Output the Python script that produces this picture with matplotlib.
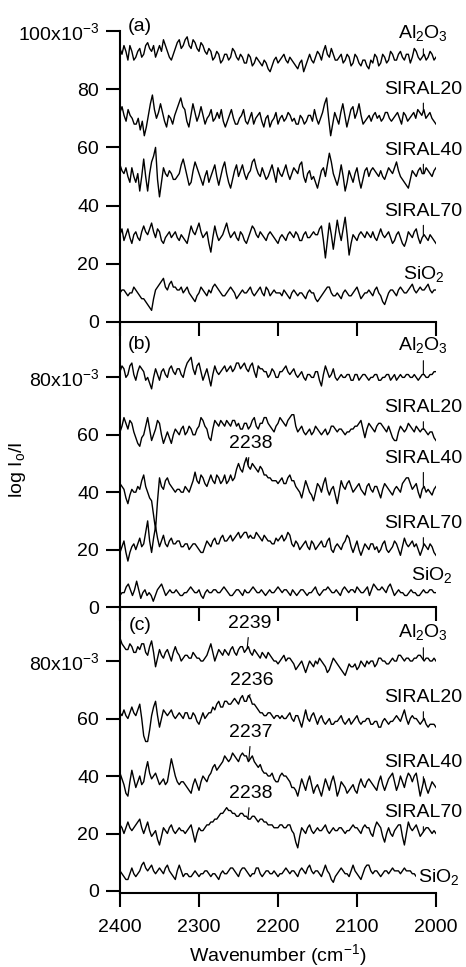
import numpy as np
import matplotlib
matplotlib.use("Agg")
import matplotlib.pyplot as plt

plt.rcParams['font.family'] = 'Liberation Sans'
plt.rcParams['mathtext.fontset'] = 'custom'
plt.rcParams['mathtext.rm'] = 'Liberation Sans'
plt.rcParams['mathtext.it'] = 'Liberation Sans:italic'
plt.rcParams['font.size'] = 14

# every spectrum runs from 2400 to 2000 cm-1, points evenly spaced (~2.5 cm-1)
WN_START, WN_END = 2400, 2000

samples = ["Al$_\\mathregular{2}$O$_\\mathregular{3}$", "SIRAL20", "SIRAL40", "SIRAL70",
           "SiO$_\\mathregular{2}$"]

# ---- panel (a) spectra, 10^-3 units
a_al2o3 = [94, 92, 95, 93, 90, 95, 93, 90, 91, 93, 94, 91, 92, 95, 96, 94, 93, 95, 91, 93,
           95, 93, 97, 95, 93, 91, 90, 92, 94, 96, 97, 94, 95, 97, 98, 95, 94, 97, 96, 94,
           93, 96, 95, 93, 92, 94, 93, 90, 91, 93, 92, 89, 90, 92, 92, 90, 91, 94, 93, 91,
           90, 92, 91, 89, 89, 92, 91, 88, 89, 91, 90, 89, 88, 90, 89, 87, 86, 88, 90, 91,
           89, 90, 91, 92, 90, 89, 91, 90, 89, 88, 87, 89, 90, 86, 88, 90, 92, 90, 89, 91,
           93, 92, 90, 93, 95, 92, 91, 94, 92, 90, 90, 91, 92, 89, 90, 92, 91, 88, 89, 92,
           91, 89, 88, 90, 90, 88, 87, 90, 89, 92, 91, 88, 89, 92, 91, 89, 90, 93, 92, 90,
           90, 92, 93, 91, 90, 92, 92, 89, 91, 94, 93, 91, 90, 91, 92, 90, 91, 93, 92, 90, 91]
a_siral20 = [72, 74, 71, 69, 73, 71, 70, 68, 68, 70, 66, 69, 64, 67, 71, 75, 78, 73, 70, 72,
             75, 72, 69, 67, 71, 70, 68, 71, 73, 75, 77, 74, 73, 69, 67, 71, 75, 72, 69, 71,
             74, 71, 68, 70, 71, 73, 69, 70, 72, 70, 73, 69, 67, 69, 71, 73, 70, 68, 68, 70,
             71, 73, 69, 68, 70, 72, 68, 70, 71, 72, 69, 67, 70, 71, 67, 69, 70, 72, 68, 70,
             71, 69, 70, 72, 71, 69, 70, 68, 68, 71, 70, 68, 69, 71, 71, 69, 73, 70, 68, 70,
             72, 75, 77, 70, 64, 68, 72, 70, 68, 72, 75, 71, 67, 70, 73, 74, 70, 72, 75, 71,
             68, 69, 70, 71, 69, 71, 72, 70, 71, 69, 70, 72, 72, 70, 69, 70, 71, 72, 70, 68,
             72, 71, 69, 70, 71, 72, 70, 73, 72, 71, 73, 70, 71, 72, 70, 69, 68]
a_siral40 = [54, 52, 51, 53, 50, 48, 53, 50, 48, 51, 45, 50, 56, 50, 45, 51, 55, 57, 60, 49,
             43, 48, 53, 51, 50, 52, 51, 49, 49, 50, 51, 54, 56, 53, 50, 47, 48, 52, 55, 53,
             51, 49, 47, 50, 52, 48, 50, 52, 54, 50, 47, 50, 53, 55, 51, 48, 46, 49, 52, 54,
             50, 52, 54, 51, 49, 51, 52, 55, 56, 53, 51, 50, 53, 51, 49, 50, 52, 54, 51, 48,
             53, 51, 50, 52, 54, 51, 49, 51, 53, 52, 51, 54, 55, 50, 48, 51, 52, 49, 50, 48,
             46, 49, 52, 53, 50, 54, 58, 55, 51, 49, 47, 50, 54, 50, 45, 48, 52, 50, 48, 51,
             53, 49, 46, 49, 52, 53, 50, 52, 53, 52, 51, 50, 52, 50, 49, 51, 53, 52, 51, 53,
             55, 52, 50, 49, 48, 47, 46, 49, 52, 51, 50, 52, 53, 51, 51, 53, 52, 51, 50, 52, 53]
a_siral70 = [30, 32, 28, 30, 32, 29, 27, 30, 31, 29, 28, 31, 33, 31, 30, 32, 34, 31, 29, 32,
             31, 28, 27, 29, 30, 31, 29, 30, 31, 29, 28, 30, 29, 28, 27, 30, 33, 31, 30, 32,
             34, 31, 29, 30, 31, 27, 24, 29, 33, 30, 28, 29, 30, 32, 34, 31, 29, 30, 31, 29,
             28, 31, 30, 28, 27, 29, 31, 33, 32, 30, 29, 31, 30, 29, 28, 30, 31, 30, 29, 28,
             27, 29, 30, 29, 28, 30, 31, 30, 29, 31, 30, 28, 28, 30, 31, 29, 29, 30, 31, 30,
             30, 32, 33, 28, 22, 28, 34, 30, 25, 30, 35, 31, 28, 32, 36, 30, 23, 27, 30, 29,
             28, 30, 31, 30, 29, 31, 30, 29, 31, 29, 28, 30, 32, 30, 29, 30, 31, 29, 27, 28,
             30, 31, 29, 27, 26, 28, 31, 30, 29, 31, 32, 29, 27, 29, 30, 29, 28, 30, 29, 28, 27]
a_sio2 = [10, 11, 11, 10, 9, 10, 10, 12, 11, 10, 9, 8, 8, 7, 6, 5, 4, 8, 11, 12,
          13, 14, 15, 12, 11, 13, 14, 12, 12, 11, 11, 12, 10, 11, 12, 10, 9, 8, 7, 9,
          10, 12, 11, 10, 9, 11, 10, 12, 13, 12, 11, 10, 9, 9, 10, 11, 12, 11, 10, 8,
          9, 10, 11, 10, 10, 11, 12, 10, 9, 10, 11, 12, 10, 9, 12, 11, 9, 10, 11, 10,
          10, 10, 9, 11, 10, 9, 8, 10, 11, 10, 9, 10, 10, 9, 8, 10, 11, 10, 10, 8,
          7, 8, 9, 10, 11, 12, 12, 10, 9, 9, 10, 9, 8, 10, 11, 10, 9, 9, 10, 11,
          12, 10, 8, 9, 10, 10, 11, 10, 9, 11, 12, 10, 9, 7, 6, 8, 10, 11, 11, 10,
          9, 11, 12, 11, 10, 10, 11, 12, 13, 11, 10, 11, 12, 11, 11, 12, 13, 11, 10, 11, 11]

# ---- panel (b)
b_al2o3 = [82, 84, 83, 80, 81, 84, 85, 81, 79, 82, 84, 83, 82, 79, 80, 78, 76, 80, 83, 81,
           79, 82, 83, 81, 80, 83, 84, 82, 81, 83, 83, 81, 80, 83, 85, 86, 87, 83, 81, 84,
           85, 82, 79, 81, 83, 80, 77, 81, 84, 82, 81, 82, 83, 84, 82, 83, 84, 82, 83, 85,
           85, 83, 84, 85, 83, 82, 84, 85, 82, 80, 84, 83, 83, 82, 82, 80, 81, 83, 82, 80,
           80, 82, 82, 83, 84, 82, 81, 82, 83, 81, 80, 81, 82, 80, 79, 81, 81, 80, 80, 82,
           82, 79, 77, 81, 84, 82, 80, 81, 83, 80, 79, 80, 81, 80, 80, 81, 81, 79, 79, 81,
           81, 79, 80, 81, 81, 80, 79, 80, 80, 81, 81, 79, 79, 80, 80, 81, 81, 79, 80, 81,
           79, 80, 81, 80, 80, 81, 81, 80, 80, 81, 80, 79, 80, 81, 81, 80, 80, 81, 81, 82, 82]
b_siral20 = [61, 63, 66, 64, 62, 65, 64, 61, 59, 57, 56, 59, 60, 63, 66, 62, 58, 60, 62, 65,
             64, 60, 57, 59, 61, 59, 57, 60, 62, 61, 60, 62, 63, 60, 61, 63, 62, 60, 60, 62,
             63, 66, 65, 63, 62, 59, 58, 62, 65, 64, 63, 65, 64, 63, 65, 64, 63, 65, 65, 63,
             64, 62, 62, 64, 64, 62, 63, 65, 66, 63, 62, 64, 64, 66, 66, 64, 63, 62, 61, 63,
             64, 66, 65, 64, 63, 65, 66, 67, 67, 63, 61, 62, 63, 61, 60, 61, 62, 60, 61, 63,
             62, 61, 60, 61, 62, 60, 61, 63, 63, 62, 61, 62, 62, 61, 60, 61, 61, 62, 62, 63,
             63, 64, 65, 62, 59, 62, 64, 63, 62, 61, 63, 64, 64, 63, 62, 61, 63, 61, 59, 58,
             58, 61, 63, 62, 61, 62, 64, 63, 62, 61, 63, 62, 61, 62, 62, 61, 60, 61, 61, 59, 58]
b_siral40 = [43, 42, 41, 38, 36, 39, 41, 40, 40, 42, 41, 44, 46, 42, 40, 38, 37, 32, 27, 37,
             45, 42, 41, 44, 45, 43, 42, 41, 40, 41, 41, 40, 40, 42, 41, 40, 42, 44, 47, 44,
             43, 46, 45, 43, 42, 44, 46, 44, 43, 46, 45, 43, 44, 46, 43, 44, 46, 44, 45, 48,
             50, 48, 47, 50, 52, 49, 48, 50, 49, 48, 47, 49, 48, 46, 46, 45, 45, 44, 44, 44,
             43, 44, 45, 43, 43, 45, 46, 44, 44, 42, 41, 40, 38, 41, 44, 42, 40, 39, 37, 40,
             43, 42, 40, 43, 45, 41, 39, 41, 42, 39, 36, 40, 44, 42, 41, 43, 44, 42, 40, 41,
             42, 43, 41, 40, 39, 42, 43, 41, 40, 42, 42, 40, 38, 41, 43, 42, 41, 40, 39, 41,
             42, 41, 40, 43, 44, 45, 45, 43, 41, 42, 43, 40, 38, 41, 42, 40, 41, 40, 39, 41, 42]
b_siral70 = [19, 21, 23, 19, 16, 19, 21, 22, 20, 22, 24, 21, 22, 26, 30, 23, 19, 24, 28, 24,
             21, 23, 25, 22, 21, 23, 24, 22, 22, 23, 23, 21, 21, 22, 22, 20, 21, 22, 22, 21,
             20, 19, 19, 21, 23, 22, 21, 23, 24, 22, 22, 24, 25, 23, 23, 24, 25, 23, 24, 25,
             26, 24, 25, 26, 26, 24, 25, 24, 24, 26, 25, 24, 23, 25, 24, 23, 23, 22, 22, 24,
             23, 24, 25, 23, 24, 26, 25, 22, 21, 23, 22, 20, 21, 22, 23, 21, 20, 23, 22, 20,
             21, 22, 23, 21, 21, 23, 24, 20, 19, 21, 22, 21, 20, 22, 23, 25, 24, 21, 19, 21,
             23, 20, 18, 20, 22, 21, 20, 22, 22, 20, 21, 19, 20, 22, 23, 20, 19, 20, 21, 23,
             22, 20, 18, 21, 24, 22, 21, 22, 23, 21, 22, 20, 18, 20, 22, 21, 20, 22, 21, 19, 18]
b_sio2 = [4, 5, 5, 7, 8, 6, 4, 6, 9, 6, 3, 5, 6, 4, 5, 4, 2, 4, 6, 7,
          8, 6, 4, 5, 6, 5, 5, 6, 5, 4, 4, 5, 5, 6, 7, 6, 5, 5, 6, 4,
          3, 5, 6, 5, 5, 6, 6, 5, 5, 6, 7, 6, 5, 4, 4, 5, 6, 6, 5, 4,
          6, 5, 5, 6, 7, 6, 5, 5, 6, 5, 4, 5, 6, 5, 5, 6, 7, 6, 5, 6,
          6, 5, 4, 6, 5, 4, 5, 6, 6, 5, 4, 5, 5, 6, 7, 5, 4, 5, 6, 6,
          7, 6, 5, 5, 6, 5, 4, 6, 7, 6, 5, 6, 6, 5, 7, 6, 5, 5, 6, 7,
          4, 6, 8, 7, 6, 6, 7, 6, 5, 7, 8, 6, 4, 5, 6, 5, 5, 4, 4, 5,
          6, 5, 5, 4, 4, 5, 6, 5, 5, 6, 6, 5, 5]

# ---- panel (c)
c_al2o3 = [88, 86, 85, 84, 84, 86, 85, 83, 83, 85, 84, 86, 86, 83, 82, 85, 87, 83, 78, 81,
           84, 82, 81, 83, 84, 82, 80, 83, 85, 83, 82, 80, 81, 82, 82, 81, 81, 83, 82, 81,
           81, 80, 80, 81, 82, 84, 86, 83, 80, 82, 84, 83, 82, 84, 83, 82, 84, 85, 83, 82,
           84, 85, 85, 83, 84, 85, 83, 82, 84, 83, 82, 81, 83, 82, 81, 83, 82, 81, 80, 80,
           79, 80, 81, 82, 80, 81, 81, 80, 79, 77, 78, 79, 80, 78, 76, 78, 80, 79, 78, 80,
           79, 81, 80, 79, 78, 76, 77, 79, 81, 80, 79, 78, 77, 76, 75, 77, 79, 78, 78, 79,
           77, 78, 80, 79, 78, 80, 79, 80, 80, 78, 79, 81, 81, 80, 80, 79, 79, 80, 81, 80,
           80, 82, 82, 81, 80, 81, 81, 80, 80, 81, 81, 82, 82, 81, 80, 81, 81, 80, 80, 81, 80]
c_siral20 = [62, 61, 63, 61, 60, 62, 64, 62, 61, 63, 65, 60, 54, 52, 52, 56, 61, 64, 66, 61,
             57, 60, 63, 62, 61, 62, 63, 61, 60, 61, 62, 61, 60, 62, 62, 60, 60, 62, 61, 59,
             58, 60, 62, 60, 61, 62, 62, 64, 63, 65, 66, 64, 64, 66, 66, 65, 65, 66, 67, 66,
             65, 67, 68, 66, 66, 68, 67, 65, 65, 64, 63, 62, 62, 61, 61, 62, 62, 61, 60, 61,
             61, 60, 61, 60, 60, 61, 62, 60, 59, 61, 61, 59, 57, 60, 63, 60, 59, 61, 62, 60,
             58, 60, 61, 59, 58, 59, 60, 58, 58, 59, 59, 60, 61, 59, 58, 59, 60, 58, 59, 60,
             61, 59, 58, 59, 59, 60, 60, 58, 58, 59, 59, 57, 57, 59, 60, 59, 58, 59, 59, 60,
             61, 60, 59, 61, 63, 60, 58, 60, 61, 60, 60, 59, 58, 59, 60, 58, 57, 58, 58, 58, 57]
c_siral40 = [41, 39, 37, 34, 33, 38, 42, 39, 36, 38, 40, 37, 38, 42, 45, 41, 39, 40, 41, 39,
             37, 38, 39, 37, 38, 42, 46, 43, 40, 38, 37, 38, 38, 37, 36, 35, 34, 37, 39, 37,
             35, 38, 40, 39, 38, 40, 41, 43, 44, 42, 43, 44, 45, 47, 46, 45, 46, 48, 47, 46,
             45, 47, 48, 47, 47, 45, 46, 47, 45, 44, 43, 44, 42, 41, 41, 40, 40, 41, 39, 38,
             38, 40, 41, 40, 40, 39, 38, 36, 36, 35, 33, 36, 39, 37, 35, 38, 40, 37, 34, 36,
             37, 35, 33, 36, 39, 37, 35, 38, 40, 37, 33, 35, 38, 37, 36, 34, 35, 36, 37, 35,
             34, 37, 39, 37, 36, 38, 39, 38, 37, 36, 35, 38, 40, 37, 35, 37, 39, 40, 41, 38,
             35, 37, 40, 38, 36, 39, 41, 40, 38, 40, 41, 37, 33, 36, 39, 36, 34, 36, 38, 37, 36]
c_siral70 = [23, 22, 20, 22, 24, 22, 21, 22, 23, 24, 25, 22, 20, 22, 24, 21, 19, 20, 21, 18,
             16, 19, 22, 21, 20, 22, 23, 21, 20, 21, 22, 21, 21, 20, 21, 22, 23, 20, 17, 20,
             22, 21, 21, 22, 23, 23, 24, 24, 25, 25, 26, 27, 27, 28, 29, 28, 28, 27, 27, 26,
             26, 27, 27, 26, 26, 25, 25, 26, 26, 25, 24, 25, 25, 24, 24, 23, 23, 23, 22, 22,
             22, 23, 23, 22, 22, 23, 23, 21, 20, 17, 15, 19, 22, 21, 20, 22, 23, 21, 20, 21,
             22, 21, 21, 22, 23, 21, 20, 21, 22, 21, 21, 22, 22, 21, 20, 21, 21, 22, 23, 22,
             22, 21, 20, 22, 23, 22, 22, 20, 19, 22, 24, 23, 22, 19, 17, 20, 22, 20, 19, 21,
             22, 23, 23, 19, 16, 20, 24, 22, 21, 22, 23, 21, 19, 20, 21, 22, 22, 21, 20, 21, 20]
c_sio2 = [7, 6, 5, 4, 4, 6, 8, 6, 5, 6, 7, 9, 10, 8, 7, 8, 9, 7, 6, 7,
          8, 7, 6, 8, 9, 7, 6, 5, 4, 7, 9, 7, 5, 6, 6, 5, 5, 6, 7, 6,
          5, 6, 6, 7, 7, 6, 5, 6, 6, 5, 4, 6, 7, 6, 6, 7, 8, 8, 7, 6,
          5, 7, 8, 8, 7, 6, 5, 6, 6, 8, 8, 6, 5, 6, 7, 7, 6, 6, 7, 6,
          5, 6, 6, 7, 8, 7, 6, 7, 7, 6, 5, 7, 8, 7, 6, 8, 9, 7, 6, 7,
          7, 6, 5, 7, 9, 7, 6, 4, 3, 5, 6, 7, 8, 7, 6, 6, 5, 7, 9, 7,
          6, 5, 4, 6, 8, 9, 9, 7, 6, 7, 7, 6, 5, 6, 7, 7, 6, 7, 8, 7,
          7, 7, 6, 7, 8, 7, 7, 7, 6, 6, 5, 6, 6, 6, 5, 6, 5, 6, 6, 6, 6]

panels = [
    ("(a)", [a_al2o3, a_siral20, a_siral40, a_siral70, a_sio2]),
    ("(b)", [b_al2o3, b_siral20, b_siral40, b_siral70, b_sio2]),
    ("(c)", [c_al2o3, c_siral20, c_siral40, c_siral70, c_sio2]),
]

# label placement: (x of text, baseline y of text) per panel / sample
label_pos = [
    [(2016, 97.5), (2016, 78.5), (2016, 57.5), (2016, 36.5), (2015, 14.8)],
    [(2016, 89.5), (2016, 67.9), (2016, 50.2), (2016, 27.5), (2005, 9.4)],
    [(2016, 88.3), (2016, 65.7), (2016, 43.1), (2016, 25.7), (1997, 3.1)],
]
leader = [True, True, True, True, False]

# peak annotations: panel index, sample index, peak position, text baseline
peaks = [
    (1, 2, 2238, 55.4),
    (2, 0, 2239, 91.5),
    (2, 1, 2236, 71.7),
    (2, 2, 2237, 53.6),
    (2, 3, 2238, 32.3),
]


def axis_of(trace):
    return np.linspace(WN_START, WN_END, len(trace))


def value_at(trace, wn):
    x = axis_of(trace)
    return np.interp(wn, x[::-1], np.array(trace, dtype=float)[::-1])


fig = plt.figure(figsize=(4.66, 9.67), dpi=100)
left, width = 120 / 466, 316 / 466
boxes = [(1 - 322 / 967, 291 / 967), (1 - 607 / 967, 285 / 967), (1 - 893 / 967, 286 / 967)]
ylims = [(0, 100), (0, 99.3), (-0.7, 98.8)]

axes = []
for k, (tag, traces) in enumerate(panels):
    b, h = boxes[k]
    ax = fig.add_axes([left, b, width, h])
    ax.set_facecolor("none")
    for tr in traces:
        ax.plot(axis_of(tr), tr, color="black", lw=1.0)
    ax.set_xlim(2400, 2000)
    ax.set_ylim(*ylims[k])
    for s in ["top", "right"]:
        ax.spines[s].set_visible(False)
    for s in ["left", "bottom"]:
        ax.spines[s].set_linewidth(1.5)
    ax.tick_params(direction="out", length=10, width=1.5, labelsize=14)
    ax.tick_params(axis="y", pad=5)
    ax.tick_params(axis="x", pad=9)
    ax.set_xticks([2400, 2300, 2200, 2100, 2000])
    if k == 0:
        ax.set_yticks([0, 20, 40, 60, 80, 100])
        ax.set_yticklabels(["0", "20", "40", "60", "80", "100x10$^{\\mathregular{-3}}$"])
    else:
        ax.set_yticks([0, 20, 40, 60, 80])
        ax.set_yticklabels(["0", "20", "40", "60", "80x10$^{\\mathregular{-3}}$"])
    if k < 2:
        ax.set_xticklabels([])
    else:
        ax.set_xlabel("Wavenumber (cm$^{\\mathregular{-1}}$)", labelpad=4)

    ytag = [101.7, 91.3, 92.5][k]
    ax.text(2375, ytag, tag, ha="center", va="center", fontsize=14)

    for j, tr in enumerate(traces):
        tx, ty = label_pos[k][j]
        if leader[j]:
            ax.annotate(samples[j], xy=(2016, value_at(tr, 2016)), xytext=(tx, ty),
                        ha="center", va="baseline", fontsize=14, annotation_clip=False,
                        arrowprops=dict(arrowstyle="-", lw=0.8, color="black",
                                        shrinkA=2, shrinkB=0))
        else:
            bbox = dict(facecolor="white", edgecolor="none", pad=1) if k == 2 else None
            ax.text(tx, ty, samples[j], ha="center", va="baseline", fontsize=14,
                    bbox=bbox, clip_on=False)
    axes.append(ax)

for k, j, pk, ty in peaks:
    tr = panels[k][1][j]
    axes[k].annotate(str(pk), xy=(pk, value_at(tr, pk)), xytext=(pk - 3, ty), ha="center",
                     va="baseline", fontsize=14,
                     arrowprops=dict(arrowstyle="-", lw=0.8, color="black",
                                     shrinkA=2, shrinkB=0))

fig.text(18 / 466, 1 - 470 / 967, "log I$_\\mathregular{o}$/I", rotation=90,
         ha="center", va="center", fontsize=14)

fig.savefig("out.png", dpi=100)
